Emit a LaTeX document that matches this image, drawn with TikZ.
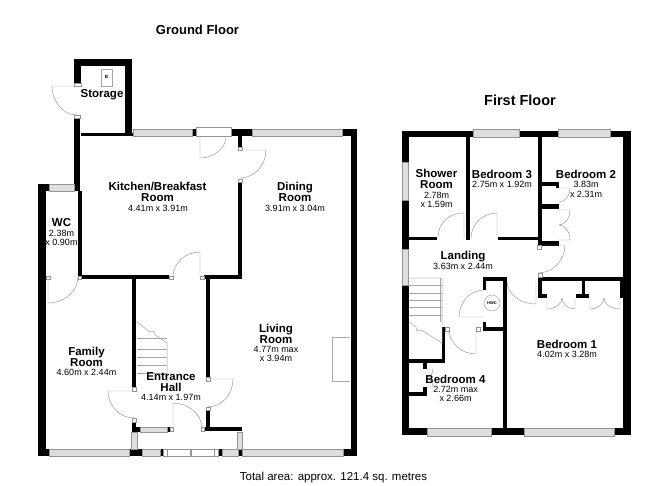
\documentclass[tikz,border=0pt]{standalone}
\usepackage{fontspec}
\setmainfont{Liberation Sans}
\usetikzlibrary{calc}
\colorlet{frameline}{black!42}
\tikzset{
	wall/.style={fill=black},
	pane/.style={draw=frameline,fill=black!13,line width=.4pt},
	jamb/.style={draw=frameline,fill=white,line width=.4pt},
	swing/.style={draw=frameline,line width=.45pt},
	fitting/.style={draw=black!35,line width=.5pt},
	roomname/.style={font=\bfseries\fontsize{11.5}{11.5}\selectfont,align=center,inner sep=0pt},
	roomsize/.style={font=\fontsize{9}{9.6}\selectfont,align=center,inner sep=0pt},
	floortitle/.style={font=\bfseries\fontsize{13}{14}\selectfont,inner sep=0pt},
	}
\begin{document}
\begin{tikzpicture}[x=1pt,y=-1pt]
\useasboundingbox[fill=white] (0,0) rectangle (668,486);

% ground floor
\foreach \xa/\ya/\xb/\yb in {74/59/132/66,74/59/81/83,125/59/132/136,74/118/80/191,78/191/81.5/279,
	81/133/133/136,192/129/196/136,231/129/252/136,238/136/242/147,238/182/242/279,342/129/357/136,351/129/357/456,
	38/184/49/191,38/184/46/456,78/275/169/279,204/275/242/279,
	132/279/136/387,206/279/210/377,206/410/210/431,204/427/242/431,
	132/422/136/432,136/427/140/432,167/427/170/432,
	38/449/49/456,129/449/142/456,160/449/163/456,218/449/222/456,238/449/242/456,343/449/357/456}
	\fill[wall] (\xa,\ya) rectangle (\xb,\yb);
\foreach \xa/\ya/\xb/\yb in {133/129/192/136,252/129/342/136,49/184/74/191,140/427/167/432,131/432/137/449,237/432/242/449,
	49/449/129/456,142/449/160/456,222/449/238/456,242/449/343/456}
	\draw[pane] (\xa,\ya) rectangle (\xb,\yb);
\foreach \xa/\ya/\xb/\yb in {196/127/231/136,163/449/218/456,163/449/167/456,214/449/218/456,190/449/191/456,
	74/83/81/86,74/115/80/118,238/147/242/150,238/179/242/182,46/276/50/279,78/276/81/279,
	169/276/173/279,200/276/204/279,132/387/136/391,132/418/136/422,206/377/210/381,206/407/210/410,170/427/173/431,201/427/204/431}
	\draw[jamb] (\xa,\ya) rectangle (\xb,\yb);

% first floor
\foreach \xa/\ya/\xb/\yb in {402/131/473/137,519/131/558/137,610/131/631/137,402/131/409/162,402/200/409/249,402/285/409/435,
	623/131/631/435,402/428/427/435,491/428/524/435,614/428/631/435,
	466/137/470/240,538/137/542/245,409/237/437/240,498/237/538/240,
	542/182/559/186,556/182/559/188,542/204/559/209,542/241/559/246,
	538/277/623/281,538/281/542/298,538/294/547/298,582/281/585/298,576/294/589/298,620/281/623/298,
	503/277/507/428,483/277/507/281,483/277/486/290,483/322/486/331,483/327/503/331,
	442/327/445/363,409/359/445/363,423/363/427/369,409/392/427/396,423/387/427/396}
	\fill[wall] (\xa,\ya) rectangle (\xb,\yb);
\foreach \xa/\ya/\xb/\yb in {473/129/519/137,558/129/610/137,402/162/408/200,402/249/408/285,427/428/491/436,524/428/614/436}
	\draw[pane] (\xa,\ya) rectangle (\xb,\yb);
\foreach \xa/\ya/\xb/\yb in {538/273/542/277,537/245/541/249,445/327/449/331,476/327/480/331}
	\draw[jamb] (\xa,\ya) rectangle (\xb,\yb);

% door leaves: hinge, leaf end, arc end
\foreach \hx/\hy/\lx/\ly/\ax/\ay in {77/86/52/86/77/115,200/136/200/158/226/136,240/150/266/150/240/178,
	48/277/48/303/78/277,200/277/200/252/173/277,134/391/108/391/134/418,173/429/173/403/202/429,208/379/233/379/208/407,
	464/238/464/213/438/237,497/238/497/213/471/238,538/245/565/245/538/273,484/317/459/317/484/290,
	476/329/476/354/449/329,536/281/536/304/507/281,
	559/188/570/188/559/202,559/210/570/210/559/225,559/240/570/240/559/225,
	547/298/547/309/562/298,575/298/575/309/562/298,590/298/590/309/604/298,620/298/620/309/604/298,
	427/369/433/369/427/377,427/387/433/387/427/379}
	\draw[swing] (\hx,\hy) -- (\lx,\ly) .. controls ($(\lx,\ly)+.55*(\ax,\ay)-.55*(\hx,\hy)$) and ($(\ax,\ay)+.55*(\lx,\ly)-.55*(\hx,\hy)$) .. (\ax,\ay);

% stairs
\foreach \y in {338,349,357,365,373}
	\draw[fitting] (137,\y) -- (167,\y);
\draw[fitting] (137,322) -- (150,332) -- (154,331) -- (155,335) -- (167,343) -- (167,382);
\foreach \y in {285,293,300,307,315}
	\draw[fitting] (409,\y) -- (442,\y);
\draw[fitting] (409,278) -- (442,278) -- (442,343) -- (421,330) -- (417,331) -- (416,327) -- (409,322);
\draw[fitting] (440,278) -- (440,322);

% fittings
\draw[fitting] (350,337) -- (332,337) -- (332,381) -- (350,381);
\draw[fitting] (101,69) rectangle (112,86);
\node (boiler) at (106.5,76.5) [inner sep=0pt,font=\fontsize{4.5}{5}\bfseries\selectfont] {B};
\draw[fitting] (492,303) circle (8);
\node (hwc) at (492,303) [inner sep=0pt,font=\fontsize{4}{5}\bfseries\selectfont] {HWC};

% labels
\node (ground) at (197.5,30) [floortitle] {Ground Floor};
\node (first) at (520,100) [floortitle,font=\bfseries\fontsize{14.5}{15}\selectfont] {First Floor};
\node (storage) at (102,94.5) [roomname] {Storage};
\node (kitchen) at (157.5,192) [roomname] {Kitchen/Breakfast\\Room};
\node (kitchens) at (158,208.5) [roomsize] {4.41m x 3.91m};
\node (dining) at (295,192) [roomname] {Dining\\Room};
\node (diningd) at (295,208.5) [roomsize] {3.91m x 3.04m};
\node (wc) at (61.5,223) [roomname] {WC};
\node (wcs) at (61.5,238) [roomsize] {2.38m\\x 0.90m};
\node (family) at (86.5,357) [roomname] {Family\\Room};
\node (familys) at (86.5,372.5) [roomsize] {4.60m x 2.44m};
\node (hall) at (171,382) [roomname] {Entrance\\Hall};
\node (halls) at (171,397) [roomsize] {4.14m x 1.97m};
\node (living) at (276,334) [roomname] {Living\\Room};
\node (livings) at (276,354) [roomsize] {4.77m max\\x 3.94m};
\node (shower) at (436.5,179) [roomname] {Shower\\Room};
\node (showers) at (436.5,200) [roomsize] {2.78m\\x 1.59m};
\node (bedc) at (502,174) [roomname] {Bedroom 3};
\node (bedcs) at (502,184) [roomsize] {2.75m x 1.92m};
\node (bedb) at (586,174.5) [roomname] {Bedroom 2};
\node (bedbs) at (586,189.5) [roomsize] {3.83m\\x 2.31m};
\node (landing) at (463,256.5) [roomname] {Landing};
\node (landings) at (463,266.5) [roomsize] {3.63m x 2.44m};
\node (beda) at (567,344) [roomname] {Bedroom 1};
\node (bedas) at (567,354) [roomsize] {4.02m x 3.28m};
\node (bedd) at (455.5,379) [roomname] {Bedroom 4};
\node (bedds) at (455.5,394) [roomsize] {2.72m max\\x 2.66m};
\node (total) at (333.5,478) [inner sep=0pt,font=\fontsize{11.5}{12}\selectfont] {Total area: approx. 121.4 sq. metres};
\end{tikzpicture}
\end{document}
